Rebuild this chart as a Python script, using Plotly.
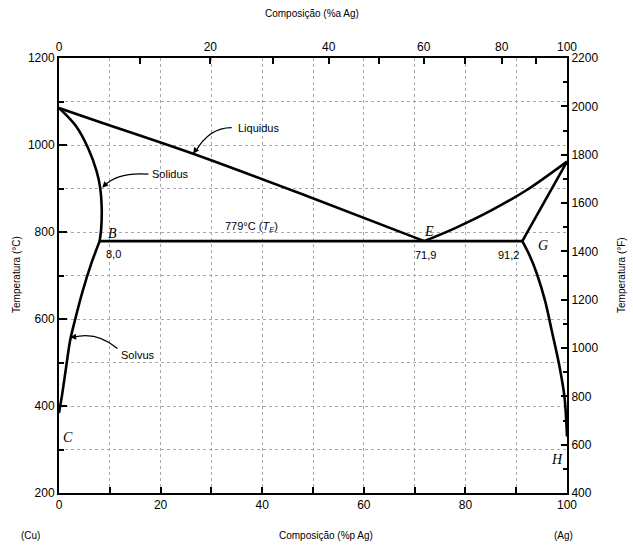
import plotly.graph_objects as go

# ---------------- data (wt% Ag, temperature °C) ----------------
liquidus_cu_wt = [0, 8, 26.4, 47.4, 71.9]
liquidus_cu_T = [1085, 1053, 980, 889, 779]
liquidus_ag_wt = [71.9, 78, 85, 92, 100]
liquidus_ag_T = [779, 809, 849, 896, 962]
solidus_cu_wt = [0, 3.3, 5.8, 7.4, 8.1, 8.4, 8.3, 8.0]
solidus_cu_T = [1085, 1044, 991, 940, 902, 858, 807, 779]
solvus_cu_wt = [8.0, 6.4, 4.6, 3.2, 2.2, 1.4, 0.6, 0]
solvus_cu_T = [779, 729, 662, 600, 551, 489, 425, 384]
solidus_ag_wt = [91.2, 100]
solidus_ag_T = [779, 962]
solvus_ag_wt = [91.2, 92.6, 94.1, 95.7, 97.0, 98.4, 99.5, 100]
solvus_ag_T = [779, 747, 703, 641, 573, 498, 421, 330]
eutectic_wt = [8.0, 71.9, 91.2]
eutectic_T = [779, 779, 779]

bottom_ticks = [0, 20, 40, 60, 80, 100]
top_at_ticks = [0, 10, 20, 30, 40, 50, 60, 70, 80, 90, 100]
left_ticks = [200, 400, 600, 800, 1000, 1200]
right_ticks = [400, 600, 800, 1000, 1200, 1400, 1600, 1800, 2000, 2200]

M_AG, M_CU = 107.87, 63.55


def at_to_wt(a):
    return 100.0 * a * M_AG / (a * M_AG + (100 - a) * M_CU)


LINE = dict(color="black", width=2.6)
fig = go.Figure()
for xs, ys in [(liquidus_cu_wt, liquidus_cu_T), (liquidus_ag_wt, liquidus_ag_T),
               (solidus_cu_wt, solidus_cu_T), (solvus_cu_wt, solvus_cu_T),
               (solidus_ag_wt, solidus_ag_T), (solvus_ag_wt, solvus_ag_T),
               (eutectic_wt, eutectic_T)]:
    shape = "spline" if len(xs) > 3 else "linear"
    fig.add_trace(go.Scatter(x=xs, y=ys, mode="lines", line=dict(shape=shape, smoothing=0.9, **LINE),
                             hoverinfo="skip", showlegend=False, cliponaxis=False))

# invisible trace for secondary axes
fig.add_trace(go.Scatter(x=[0, 100], y=[right_ticks[0], right_ticks[-1]], xaxis="x2", yaxis="y2",
                         mode="markers", marker=dict(opacity=0), showlegend=False, hoverinfo="skip"))

FONT = "Liberation Sans, Arial, sans-serif"
TICKF = dict(family=FONT, size=12, color="black")
GRIDC = "#a8a8a8"
GRID = dict(showgrid=True, gridcolor=GRIDC, griddash="dot", gridwidth=1)

fig.update_layout(
    width=633, height=546,
    margin=dict(l=59, r=66, t=58, b=53),
    paper_bgcolor="white", plot_bgcolor="white",
    font=dict(family=FONT, color="black"),
    xaxis=dict(range=[0, 100], tickvals=bottom_ticks, ticks="inside", ticklen=6, tickwidth=1.5,
               tickcolor="black", showline=True, linecolor="black", linewidth=2, zeroline=False,
               tickfont=TICKF, **GRID,
               minor=dict(dtick=10, ticks="inside", ticklen=6, showgrid=True, gridcolor=GRIDC,
                          griddash="dot")),
    xaxis2=dict(range=[0, 100], overlaying="x", side="top", anchor="y",
                tickvals=[at_to_wt(a) for a in top_at_ticks],
                ticktext=[str(a) if a % 20 == 0 else "" for a in top_at_ticks],
                ticks="inside", ticklen=6, tickwidth=1.5, tickcolor="black",
                showline=True, linecolor="black", linewidth=2, showgrid=False, zeroline=False,
                tickfont=TICKF),
    yaxis=dict(range=[200, 1200], tickvals=left_ticks, ticks="inside", ticklen=8, tickwidth=1.5,
               tickcolor="black", showline=True, linecolor="black", linewidth=2, zeroline=False,
               tickfont=TICKF, **GRID,
               minor=dict(dtick=100, ticks="inside", ticklen=5, showgrid=True, gridcolor=GRIDC,
                          griddash="dot")),
    yaxis2=dict(range=[right_ticks[0], right_ticks[-1]], overlaying="y", side="right", anchor="x",
                tickvals=right_ticks, ticks="inside", ticklen=6, tickwidth=1.5, tickcolor="black",
                showline=True, linecolor="black", linewidth=2, showgrid=False, zeroline=False,
                tickfont=TICKF,
                minor=dict(dtick=100, ticks="inside", ticklen=4)),
)

PW, PH, ML, MB = 508, 435, 59, 53


def px_to_paper(xpix, ypix):
    return (xpix - ML) / PW, (546 - ypix - MB) / PH


small = dict(family=FONT, size=10, color="black")
for txt, xpix, ypix in [("Composição (%a Ag)", 312, 14), ("Composição (%p Ag)", 326, 535),
                        ("(Cu)", 30, 535), ("(Ag)", 563, 535)]:
    px_, py_ = px_to_paper(xpix, ypix)
    fig.add_annotation(text=txt, xref="paper", yref="paper", x=px_, y=py_,
                       showarrow=False, font=small, xanchor="center", yanchor="middle")
for txt, xpix in [("Temperatura (°C)", 16), ("Temperatura (°F)", 621)]:
    px_, py_ = px_to_paper(xpix, 275)
    fig.add_annotation(text=txt, xref="paper", yref="paper", x=px_, y=py_, textangle=-90,
                       showarrow=False, font=small, xanchor="center", yanchor="middle")

# point labels
LET = dict(family="Liberation Serif, serif", size=14, color="black")
for txt, x, y in [("A", -2.2, 1090), ("B", 10.5, 796), ("E", 72.8, 802), ("F", 102.8, 955),
                  ("G", 95.3, 770), ("C", 1.8, 327), ("H", 98.0, 277)]:
    fig.add_annotation(text=f"<i>{txt}</i>", x=x, y=y, showarrow=False, font=LET)

NUM = dict(family=FONT, size=11, color="black")
for txt, x, y in [("8,0", 10.8, 750), ("71,9", 72.1, 747), ("91,2", 88.4, 747)]:
    fig.add_annotation(text=txt, x=x, y=y, showarrow=False, font=NUM)
fig.add_annotation(text="779°C (<i>T<sub>E</sub></i>)", x=37.8, y=811, showarrow=False, font=NUM)

# curve names with curved leaders
for txt, tx, ty, path, ex, ey, ax, ay in [
    ("Liquidus", 39.2, 1040, "M 34.0,1040 Q 29.5,1040 26.9,985", 26.4, 980, 26.9, 988),
    ("Solidus", 21.9, 933, "M 17.6,933 Q 11.5,938 8.9,906", 8.5, 902, 9.1, 909),
    ("Solvus", 15.6, 518, "M 11.5,532 Q 7.5,572 2.8,558", 2.2, 558, 3.2, 559),
]:
    fig.add_annotation(text=txt, x=tx, y=ty, showarrow=False, font=dict(family=FONT, size=11, color="black"))
    fig.add_shape(type="path", path=path, xref="x", yref="y", line=dict(color="black", width=1.2))
    fig.add_annotation(x=ex, y=ey, ax=ax, ay=ay, axref="x", ayref="y", xref="x", yref="y",
                       text="", showarrow=True, arrowhead=2, arrowsize=1, arrowwidth=1.2,
                       arrowcolor="black")

fig.write_html("out.html", config={"displayModeBar": False},
               post_script="document.body.style.margin='0px';")
